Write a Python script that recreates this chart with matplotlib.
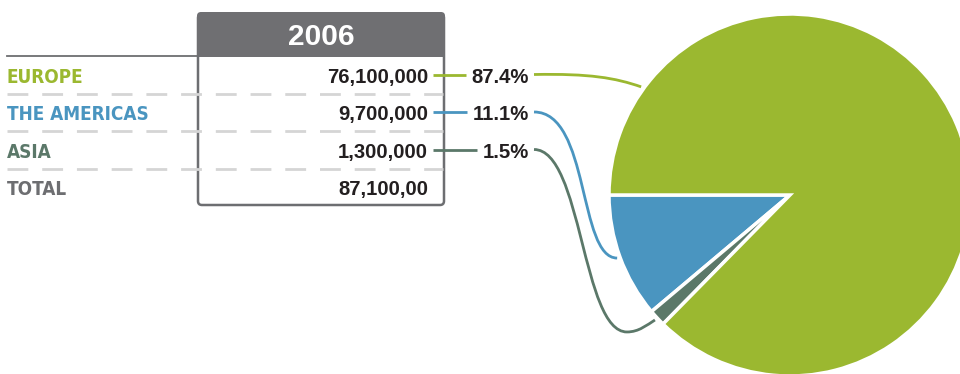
import numpy as np
import matplotlib
matplotlib.use("Agg")
import matplotlib.pyplot as plt
from matplotlib import font_manager
from matplotlib.patches import FancyBboxPatch, Rectangle, PathPatch
from matplotlib.path import Path

# Visitors by region, 2006
regions = ["EUROPE", "THE AMERICAS", "ASIA"]
visitors = [76100000, 9700000, 1300000]
total_label = "87,100,00"
year = "2006"

region_colors = ["#9bb830", "#4a95c0", "#5b7869"]
total_color = "#6d6e71"
dark = "#231f20"
num_font = ["Liberation Sans", "DejaVu Sans"]

# narrow face for the row labels if one is around
cond = font_manager.FontProperties(family="DejaVu Sans", stretch="condensed", weight="bold")
if "Condensed" in font_manager.findfont(cond, fallback_to_default=False):
    lab_props = dict(family="DejaVu Sans", fontstretch="condensed", fontsize=13.6)
else:
    lab_props = dict(family="Liberation Sans", fontsize=13.2)

shares = [100.0 * v / sum(visitors) for v in visitors]

fig = plt.figure(figsize=(9.6, 3.74), dpi=100)
ax = fig.add_axes([0, 0, 1, 1])

# pie: americas and asia wedges start at 9 o'clock and go down
cx, cy, rad = 790, 195, 181
pie_vals = [visitors[1], visitors[2], visitors[0]]
pie_cols = [region_colors[1], region_colors[2], region_colors[0]]
wedges, _ = ax.pie(pie_vals, colors=pie_cols, startangle=180, counterclock=False,
                   center=(cx, cy), radius=rad, frame=True,
                   wedgeprops=dict(edgecolor="white", linewidth=2.5))
ax.set_xlim(0, 960)
ax.set_ylim(374, 0)
ax.set_aspect("equal")
ax.axis("off")

# table frame and header
ax.add_patch(FancyBboxPatch((198, 14), 246, 191, boxstyle="round,pad=0,rounding_size=4",
                            facecolor="white", edgecolor=total_color, lw=1.8, zorder=2))
ax.add_patch(FancyBboxPatch((197, 12), 248, 40, boxstyle="round,pad=0,rounding_size=4",
                            facecolor="#6f6f72", edgecolor="none", zorder=3))
ax.add_patch(Rectangle((197, 36), 248, 21, facecolor="#6f6f72", edgecolor="none", zorder=3))
ax.text(321, 45, year, color="white", fontsize=21.5, fontweight="bold",
        family=num_font, ha="center", va="baseline", zorder=4)
ax.plot([7, 198], [55.5, 55.5], color=total_color, lw=1.3, zorder=3)

row_y = [75, 112.5, 150, 187]
for y in [(a + b) / 2 for a, b in zip(row_y[:-1], row_y[1:])]:
    ax.plot([7, 443], [y, y], color="#d5d5d5", lw=2, dashes=(7.5, 5), zorder=3)

labels = regions + ["TOTAL"]
lab_colors = region_colors + [total_color]
values = [f"{v:,}" for v in visitors] + [total_label]
for y, lab, col, val in zip(row_y, labels, lab_colors, values):
    ax.text(7, y + 7.5, lab, color=col, fontweight="bold",
            ha="left", va="baseline", zorder=4, **lab_props)
    ax.text(428, y + 7.5, val, color=dark, fontsize=14.6, fontweight="bold",
            family=num_font, ha="right", va="baseline", zorder=4)

fig.canvas.draw()
renderer = fig.canvas.get_renderer()
inv = ax.transData.inverted()

# connector end points on the pie rim
thetas = [216.0,
          (wedges[0].theta1 + wedges[0].theta2) / 2,
          (wedges[1].theta1 + wedges[1].theta2) / 2]
for i, (pct, col) in enumerate(zip(shares, region_colors)):
    y = row_y[i] - 0.5
    t = ax.text(529, row_y[i] + 7.5, f"{pct:.1f}%", color=dark, fontsize=14.6,
                fontweight="bold", family=num_font, ha="right", va="baseline", zorder=4)
    x_left = inv.transform(t.get_window_extent(renderer).get_points())[0][0]
    ax.plot([433, x_left - 6], [y, y], color=col, lw=2, solid_capstyle="butt", zorder=4)

    th = np.deg2rad(thetas[i])
    ex, ey = cx + 184 * np.cos(th), cy + 184 * np.sin(th)
    if i == 0:
        verts = [(534, y), (590, y - 1), (615, ey - 9), (ex, ey)]
        codes = [Path.MOVETO] + [Path.CURVE4] * 3
    elif i == 1:
        verts = [(534, y), (590, y), (578, ey), (ex, ey)]
        codes = [Path.MOVETO] + [Path.CURVE4] * 3
    else:
        bx, by = ex - 28, ey + 12
        verts = [(534, y), (582, y), (582, by), (bx, by),
                 (bx + 12, by), (ex - 8, ey + 5), (ex, ey)]
        codes = [Path.MOVETO] + [Path.CURVE4] * 6
    ax.add_patch(PathPatch(Path(verts, codes), facecolor="none", edgecolor=col,
                           lw=2, zorder=1))

fig.savefig("out.png", dpi=100)
